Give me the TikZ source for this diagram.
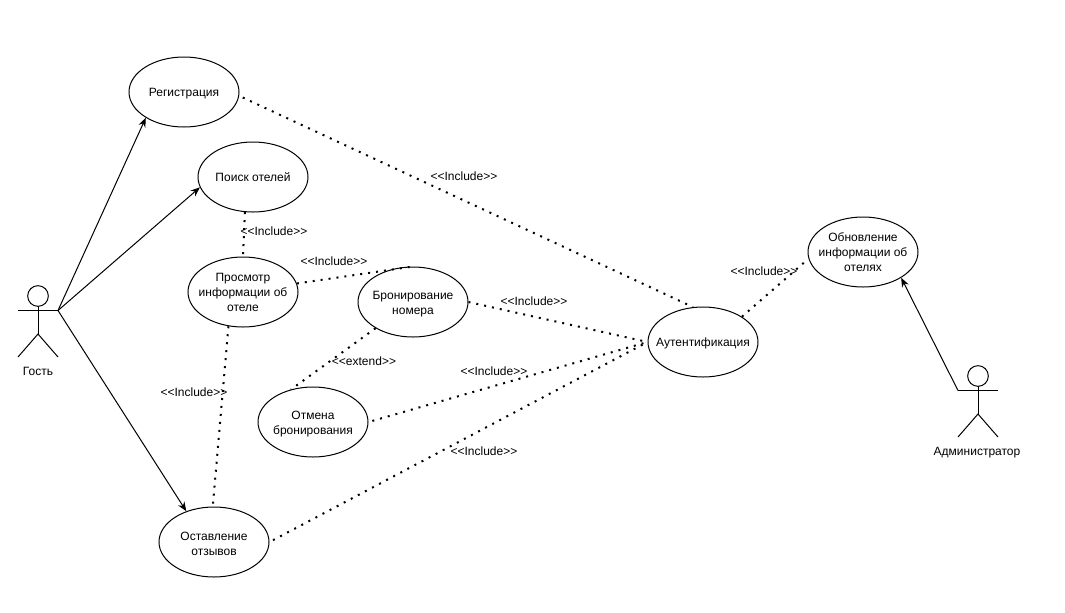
\documentclass[tikz,border=0pt]{standalone}
\usepackage{fontspec}
\setmainfont{Liberation Sans}
\usetikzlibrary{shapes.geometric, arrows.meta}

\begin{document}
\begin{tikzpicture}[x=0.75pt, y=-0.75pt, line width=0.75pt,
	font=\fontsize{9}{11.25}\selectfont,
	oval/.style = { ellipse, draw=black, fill=white, inner sep=0pt,
	minimum width=82.5pt, minimum height=52.5pt },
	usecase/.style = { oval,
	label={[align=center, inner sep=0pt]center:#1} },
	lowcase/.style = { oval,
	label={[align=center, inner sep=0pt, yshift=-1.3pt]center:#1} },
	head/.style = { circle, draw=black, fill=white, inner sep=0pt,
	minimum size=15.5pt },
	assoc/.style = { -{Stealth[length=7pt, width=5.5pt]} },
	dep/.style = { line width=1.5pt, dash pattern=on 1.5pt off 4.5pt },
	deplabel/.style = { inner sep=0pt } ]

  \useasboundingbox (0,0) rectangle (1065,612);

  % use cases
  \node [name=reg, lowcase={Регистрация}] at (184,92) {};
  \node [name=search, usecase={Поиск отелей}] at (253,177) {};
  \node [name=view, usecase={Просмотр\\информации об\\отеле}] at (243,292) {};
  \node [name=book, lowcase={Бронирование\\номера}] at (413,302) {};
  \node [name=cancel, lowcase={Отмена\\бронирования}] at (313,422) {};
  \node [name=review, lowcase={Оставление\\отзывов}] at (214,542) {};
  \node [name=auth, lowcase={Аутентификация}] at (703,342) {};
  \node [name=update, usecase={Обновление\\информации об\\отелях}] at (863,252) {};

  % actors
  \node [name=guest, head] at (38,296) {};
  \coordinate (guesthand) at (58,310.5);
  \coordinate (guestleft) at (18,310.5);
  \coordinate (guesthip) at (38,334);
  \draw (guestleft) -- (guesthand);
  \draw (guest.south) -- (guesthip);
  \draw (18,357) -- (guesthip) -- (58,357);
  \node [name=guestlabel] at (38,371) { Гость };

  \node [name=admin, head] at (978,376) {};
  \coordinate (adminhand) at (958,390.5);
  \coordinate (adminright) at (998,390.5);
  \coordinate (adminhip) at (978,414);
  \draw (adminhand) -- (adminright);
  \draw (admin.south) -- (adminhip);
  \draw (958,437) -- (adminhip) -- (998,437);
  \node [name=adminlabel] at (977,452.5) { Администратор };

  % associations
  \draw [assoc] (guesthand) -- (reg.214);
  \draw [assoc] (guesthand) -- (search.191);
  \draw [assoc] (guesthand) -- (review.132);
  \draw [assoc] (adminhand) -- (update.-34);

  % dependencies
  \draw [dep, shorten <=3pt] (reg.-4) -- (auth.106);
  \draw [dep] (search.-103) -- (view.90);
  \draw [dep] (view.9) -- (book.90);
  \draw [dep] (view.-113) -- (review.92);
  \draw [dep] (book.-145) -- (cancel.124);
  \draw [dep] (book.0) -- (auth.180);
  \draw [dep, shorten <=3pt] (cancel.0) -- (auth.180);
  \draw [dep, shorten <=3pt] (review.0) -- (auth.180);
  \draw [dep, shorten >=4pt] (auth.33) -- (update.187);

  % labels
  \node [name=lblreg, deplabel] at (464,176) { <{}<Include>{}> };
  \node [name=lblsearch, deplabel] at (274,231) { <{}<Include>{}> };
  \node [name=lblview, deplabel] at (334,261) { <{}<Include>{}> };
  \node [name=lblreview, deplabel] at (194,392) { <{}<Include>{}> };
  \node [name=lblbook, deplabel] at (534,301) { <{}<Include>{}> };
  \node [name=lblcancel, deplabel] at (494,371) { <{}<Include>{}> };
  \node [name=lblrevauth, deplabel] at (484,451) { <{}<Include>{}> };
  \node [name=lblupdate, deplabel] at (764,271) { <{}<Include>{}> };
  \node [name=lblextend, deplabel] at (364,361) { <{}<extend>{}> };
\end{tikzpicture}
\end{document}
